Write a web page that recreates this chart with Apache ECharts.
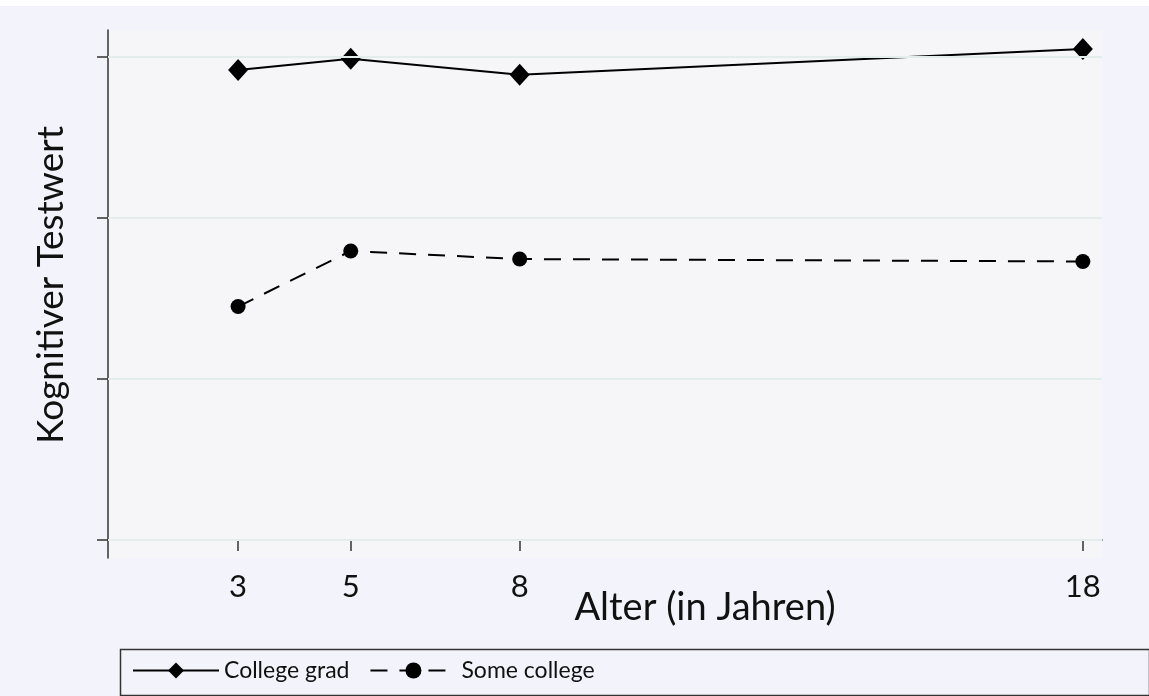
<!DOCTYPE html>
<html>
<head>
<meta charset="utf-8">
<script src="https://cdn.jsdelivr.net/npm/echarts@6/dist/echarts.min.js"></script>
<style>
html,body{margin:0;padding:0;background:#f3f3fb;}
#main{width:1149px;height:696px;}
</style>
</head>
<body>
<div id="main"></div>
<script>
// Data
var ages = [3, 5, 8, 18];
var collegeGrad = [29.2, 29.9, 28.9, 30.5];
var someCollege = [14.5, 17.95, 17.45, 17.3];
var yTicks = [0, 10, 20, 30];
var xTicks = [3, 5, 8, 18];
var seriesNames = ['College grad', 'Some college'];
var xTitle = 'Alter (in Jahren)';
var yTitle = 'Kognitiver Testwert';

function pairs(xs, ys) { return xs.map(function (x, i) { return [x, ys[i]]; }); }

var FONT = 'Lato';
var chart = echarts.init(document.getElementById('main'), null, {renderer: 'canvas'});
chart.setOption({
  backgroundColor: '#f3f3fb',
  animation: false,
  graphic: [
    {type: 'rect', left: 0, top: 0, shape: {width: 1149, height: 6}, style: {fill: '#ffffff'}, z: -10},
    {type: 'rect', left: 118, top: 647, shape: {width: 1029, height: 46}, style: {fill: 'none', stroke: '#333', lineWidth: 1.5}, z: 10}
  ],
  grid: {left: 108, top: 30, right: 47, bottom: 138, show: true, backgroundColor: '#f6f6f9', borderWidth: 0},
  legend: {
    left: 127, top: 654, itemWidth: 86, itemHeight: 20, itemGap: 20,
    textStyle: {fontFamily: FONT, fontSize: 23, color: '#111'},
    data: seriesNames
  },
  xAxis: {
    type: 'value', min: 0.69, max: 18.34,
    name: xTitle, nameLocation: 'middle', nameGap: 31, nameMoveOverlap: false,
    nameTextStyle: {fontFamily: FONT, fontSize: 38, color: '#111', padding: [0, 0, 0, 200]},
    axisLine: {show: true, lineStyle: {color: '#333', width: 1.5}},
    axisTick: {show: true, customValues: xTicks, length: 11, inside: false, lineStyle: {color: '#333', width: 1.5}},
    axisLabel: {show: true, customValues: xTicks, margin: 13, fontFamily: FONT, fontSize: 31, color: '#111'},
    splitLine: {show: false}
  },
  yAxis: {
    type: 'value', min: -1.12, max: 31.68,
    name: yTitle, nameLocation: 'middle', nameGap: 38, nameRotate: 90, nameMoveOverlap: false,
    nameTextStyle: {fontFamily: FONT, fontSize: 37, color: '#111', padding: [0, 0, 0, 18]},
    axisLine: {show: true, lineStyle: {color: '#333', width: 1.5}},
    axisTick: {show: true, customValues: yTicks, length: 11, inside: false, lineStyle: {color: '#333', width: 1.5}},
    axisLabel: {show: false},
    splitLine: {show: false}
  },
  series: [
    {
      name: 'grid', type: 'line', data: [], z: 1, silent: true,
      markLine: {
        silent: true, symbol: ['none', 'none'], label: {show: false},
        lineStyle: {color: '#e5ecec', width: 2, type: 'solid'},
        data: yTicks.map(function (v) { return {yAxis: v}; })
      }
    },
    {
      name: seriesNames[0], type: 'line', z: 3,
      data: pairs(ages, collegeGrad),
      symbol: 'diamond', symbolSize: [20, 22],
      lineStyle: {color: '#000', width: 2, type: 'solid'},
      itemStyle: {color: '#000'}
    },
    {
      name: seriesNames[1], type: 'line', z: 3,
      data: pairs(ages, someCollege),
      symbol: 'circle', symbolSize: 15,
      lineStyle: {color: '#000', width: 2, type: [17, 12]},
      itemStyle: {color: '#000'}
    }
  ]
});
</script>
</body>
</html>
